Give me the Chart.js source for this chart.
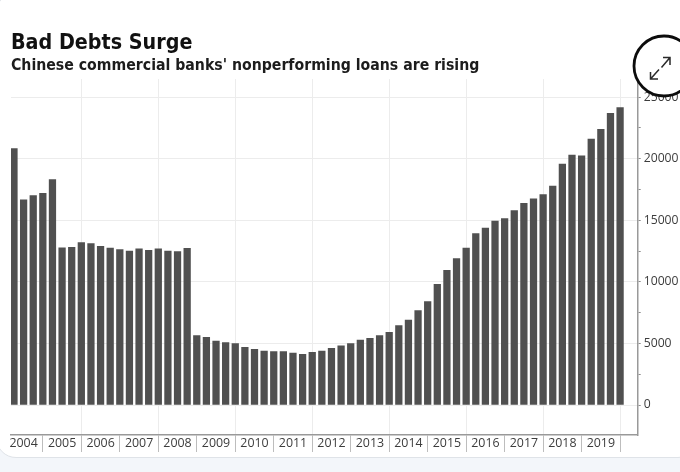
<!DOCTYPE html>
<html>
<head>
<meta charset="utf-8">
<script src="https://cdn.jsdelivr.net/npm/chart.js@4"></script>
<style>
html,body{margin:0;padding:0;width:680px;height:472px;overflow:hidden;background:#f3f6fa}
#card{position:absolute;left:-4px;top:-8px;width:700px;height:464px;background:#fff;border:1px solid #dfe3e8;border-radius:20px}
#wrap{position:absolute;left:0;top:0;width:680px;height:456px;overflow:hidden}
canvas{position:absolute;left:0;top:0;filter:blur(0.35px)}
svg{position:absolute;left:0;top:0}
</style>
</head>
<body>
<div id="card"></div>
<div id="wrap"><canvas id="c" width="680" height="472" style="width:680px;height:472px"></canvas></div>
<svg width="680" height="472" viewBox="0 0 680 472" aria-hidden="true">
  <circle cx="664" cy="66" r="30" fill="#fff" stroke="#0c0c0c" stroke-width="2.8"/>
  <g fill="none" stroke="#2a2a2a" stroke-width="1.5">
    <path d="M661.5 67.5 L670 57.5 M663 57.5 H670 V65"/>
    <path d="M659 69.5 L650.5 79 M650.5 72 V79 H658"/>
  </g>
</svg>
<script>
const titleText = "Bad Debts Surge";
const subtitleText = "Chinese commercial banks' nonperforming loans are rising";
const years = ["2004","2005","2006","2007","2008","2009","2010","2011","2012","2013","2014","2015","2016","2017","2018","2019"];
const yLabelValues = [0,5000,10000,15000,20000,25000];
const yMinorValues = [2500,7500,12500,17500,22500];
const nplValues = [
  20810,16650,17000,17190,
  18300,12770,12800,13180,
  13100,12890,12750,12610,
  12500,12690,12560,12690,
  12500,12450,12720,5630,
  5500,5200,5060,4980,
  4690,4520,4380,4330,
  4330,4220,4120,4280,
  4380,4600,4800,4980,
  5280,5420,5630,5900,
  6440,6900,7660,8390,
  9800,10940,11880,12750,
  13910,14370,14940,15130,
  15780,16380,16730,17080,
  17780,19570,20300,20240,
  21600,22390,23690,24140
];

const FONT = "'Open Sans', sans-serif";
const HEAD = "'DejaVu Sans Condensed', 'DejaVu Sans', sans-serif";
const labelAt = new Map(years.map((y, k) => [1 + 4 * k, y]));
const sepAt = years.map((y, k) => 3 + 4 * k);

new Chart(document.getElementById('c'), {
  type: 'bar',
  data: {
    datasets: [{
      data: nplValues.map((v, i) => ({x: i, y: v})),
      backgroundColor: '#505050',
      barThickness: 6.6,
      borderWidth: 0
    }]
  },
  options: {
    responsive: false,
    animation: false,
    devicePixelRatio: 1,
    layout: {padding: {left: 11, right: 0, top: 0, bottom: 0}},
    plugins: {
      legend: {display: false},
      tooltip: {enabled: false},
      title: {
        display: true, text: titleText, align: 'start', color: '#111',
        font: {family: HEAD, size: 21.3, weight: 'bold', lineHeight: 1.2},
        padding: {top: 30.7, bottom: 0}
      },
      subtitle: {
        display: true, text: subtitleText, align: 'start', color: '#1c1c1c',
        font: {family: HEAD, size: 15.7, weight: 'bold', lineHeight: 1.2},
        padding: {top: 0, bottom: 4}
      }
    },
    scales: {
      x: {
        type: 'linear', offset: false, min: -0.31, max: 64.83,
        afterBuildTicks: s => {
          s.ticks = [...labelAt.keys(), ...sepAt].sort((a, b) => a - b).map(v => ({value: v}));
        },
        afterFit: s => { s.height = 37; },
        ticks: {
          autoSkip: false, maxRotation: 0, minRotation: 0, padding: -15.5,
          color: '#3c3c3c', font: {family: FONT, size: 12.4},
          callback: v => labelAt.get(v) || ''
        },
        grid: {
          offset: false, tickLength: 17, lineWidth: 1,
          color: c => (c.tick && (c.tick.value + 1) % 8 === 0) ? '#ececec' : 'rgba(0,0,0,0)',
          tickColor: c => (c.tick && labelAt.has(c.tick.value)) ? 'rgba(0,0,0,0)' : '#bdbdbd'
        },
        border: {display: true, color: '#999', width: 1.5}
      },
      y: {
        position: 'right', min: -2435, max: 26460,
        afterBuildTicks: s => {
          s.ticks = [...yLabelValues, ...yMinorValues].sort((a, b) => a - b).map(v => ({value: v}));
        },
        afterFit: s => { s.width = 42.3; },
        ticks: {
          autoSkip: false, padding: 3, color: '#3c3c3c', font: {family: FONT, size: 12.2},
          callback: v => yLabelValues.includes(v) ? String(v) : ''
        },
        grid: {
          tickLength: 3, lineWidth: 1,
          color: c => (c.tick && yLabelValues.includes(c.tick.value)) ? '#ececec' : 'rgba(0,0,0,0)',
          tickColor: '#8c8c8c'
        },
        border: {display: true, color: '#999', width: 1.5}
      }
    }
  }
});
</script>
</body>
</html>
